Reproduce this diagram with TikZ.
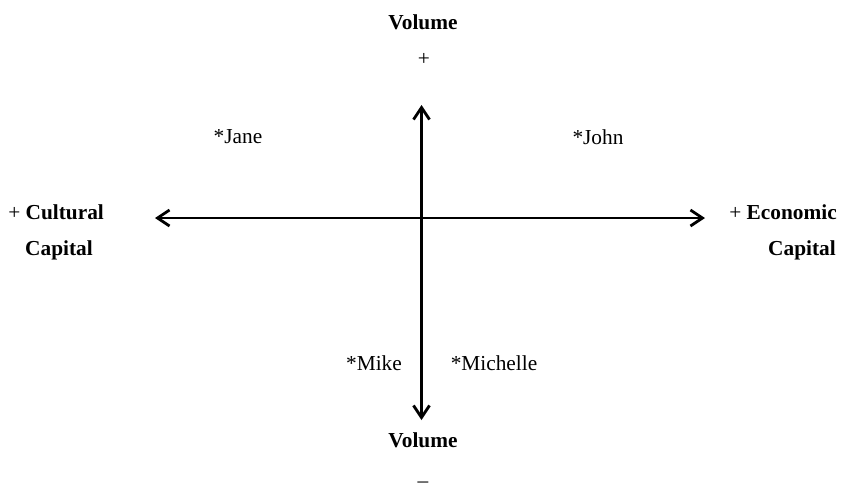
\documentclass[tikz,border=0pt]{standalone}
\usepackage{fontspec}
\setmainfont{Liberation Serif}
\usetikzlibrary{arrows.meta}
\begin{document}
\begin{tikzpicture}[x=0.75pt,y=-0.75pt,
  lbl/.style={font=\fontsize{16}{19}\selectfont, inner sep=0pt},
  blbl/.style={font=\fontsize{16}{19}\selectfont\bfseries, inner sep=0pt},
  axis/.style={line width=2.1pt, {Straight Barb[length=9pt,width=12pt,line width=2.1pt]}-{Straight Barb[length=9pt,width=12pt,line width=2.1pt]}}]
\useasboundingbox (0,0) rectangle (841,494);
\coordinate (L) at (155,218);
\coordinate (R) at (705,218);
\coordinate (T) at (421.5,105);
\coordinate (B) at (421.5,420);
\draw[axis] (L) -- (R);
\draw[axis] (T) -- (B);
\node[blbl] (vt) at (423,22) {Volume};
\node[lbl] (pt) at (424,59) {+};
\node[lbl] (jane) at (238,137) {*Jane};
\node[lbl] (john) at (598,137) {*John};
\node[blbl, anchor=west] (cul) at (8,212) {\mdseries+ \bfseries Cultural};
\node[blbl] (cap1) at (59,250) {Capital};
\node[blbl, anchor=east] (eco) at (837,212) {\mdseries+ \bfseries Economic};
\node[blbl, anchor=east] (cap2) at (836,250) {Capital};
\node[lbl] (mike) at (374,363) {*Mike};
\node[lbl] (mich) at (494,363) {*Michelle};
\node[blbl] (vb) at (423,440) {Volume};
\node[lbl] (mb) at (423,485) {–};
\end{tikzpicture}
\end{document}
